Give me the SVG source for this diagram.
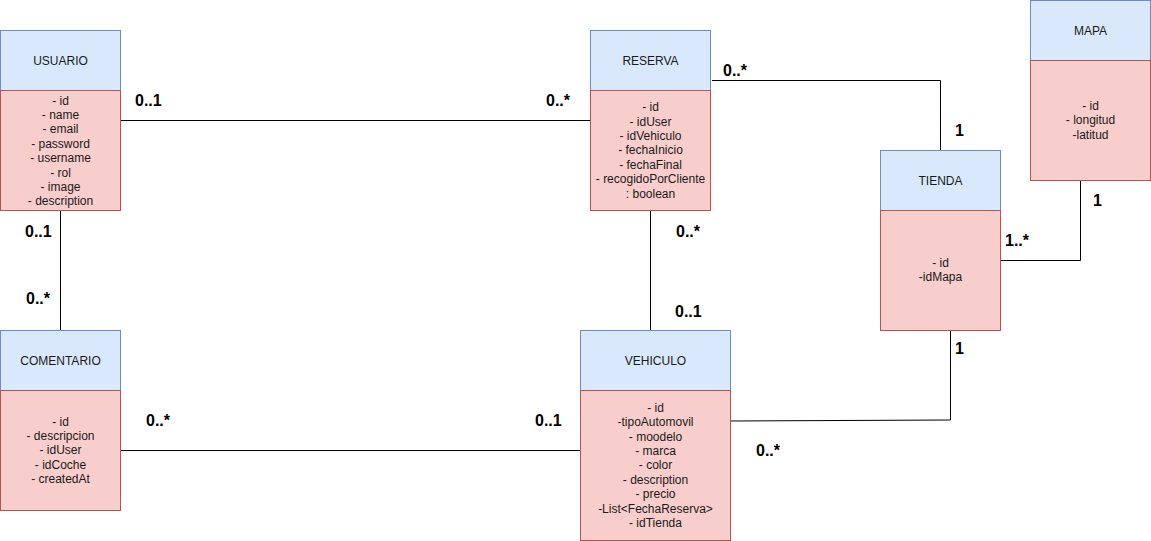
<svg xmlns="http://www.w3.org/2000/svg" width="1151" height="541" viewBox="0 0 1151 541">
  <style>
    .hdr { fill: #dae8fc; stroke: #6c8ebf; stroke-width: 1; }
    .body { fill: #f8cecc; stroke: #b85450; stroke-width: 1; }
    .t { font-family: "Liberation Sans", Arial, Helvetica, sans-serif; font-size: 12px; fill: #1a1a1a; text-anchor: middle; }
    .m { font-family: "Liberation Sans", Arial, Helvetica, sans-serif; font-size: 16px; font-weight: bold; fill: #000; }
    .edge { fill: none; stroke: #000; stroke-width: 1; }
  </style>
  <rect width="1151" height="541" fill="#ffffff"/>

  <!-- associations -->
  <g id="connectors">
    <path class="edge" d="M120.5 120.5 H590.5"/>
    <path class="edge" d="M60.5 210.5 V330.5"/>
    <path class="edge" d="M650.5 210.5 V330.5"/>
    <path class="edge" d="M712 80.5 H940.5 V150.5"/>
    <path class="edge" d="M1000.5 260.5 H1080.5 V180.5"/>
    <path class="edge" d="M730.5 421 L950.5 420 V330.5"/>
    <path class="edge" d="M120.5 450.5 H580.5"/>
  </g>

  <!-- multiplicities -->
  <g id="multiplicities">
    <text class="m" x="135" y="106">0..1</text>
    <text class="m" x="546" y="106">0..*</text>
    <text class="m" x="25" y="237">0..1</text>
    <text class="m" x="26" y="304">0..*</text>
    <text class="m" x="676" y="237">0..*</text>
    <text class="m" x="675" y="317">0..1</text>
    <text class="m" x="723" y="76">0..*</text>
    <text class="m" x="955" y="136">1</text>
    <text class="m" x="1005" y="246">1..*</text>
    <text class="m" x="1093" y="206">1</text>
    <text class="m" x="955" y="354">1</text>
    <text class="m" x="146" y="426">0..*</text>
    <text class="m" x="535" y="426">0..1</text>
    <text class="m" x="756" y="456">0..*</text>
  </g>

  <g id="usuario">
    <rect class="hdr" x="0.5" y="30.5" width="120" height="60"/>
    <rect class="body" x="0.5" y="90.5" width="120" height="120"/>
    <text class="t" x="60.5" y="64.5">USUARIO</text>
    <text class="t" x="60.5" y="104.5">- id</text>
    <text class="t" x="60.5" y="118.9">- name</text>
    <text class="t" x="60.5" y="133.3">- email</text>
    <text class="t" x="60.5" y="147.7">- password</text>
    <text class="t" x="60.5" y="162.1">- username</text>
    <text class="t" x="60.5" y="176.5">- rol</text>
    <text class="t" x="60.5" y="190.9">- image</text>
    <text class="t" x="60.5" y="205.3">- description</text>
  </g>

  <g id="reserva">
    <rect class="hdr" x="590.5" y="30.5" width="120" height="60"/>
    <rect class="body" x="590.5" y="90.5" width="120" height="120"/>
    <text class="t" x="650.5" y="64.5">RESERVA</text>
    <text class="t" x="650.5" y="111.2">- id</text>
    <text class="t" x="650.5" y="125.6">- idUser</text>
    <text class="t" x="650.5" y="140">- idVehiculo</text>
    <text class="t" x="650.5" y="154.4">- fechaInicio</text>
    <text class="t" x="650.5" y="168.8">- fechaFinal</text>
    <text class="t" x="650.5" y="183.2">- recogidoPorCliente</text>
    <text class="t" x="650.5" y="197.6">: boolean</text>
  </g>

  <g id="tienda">
    <rect class="hdr" x="880.5" y="150.5" width="120" height="60"/>
    <rect class="body" x="880.5" y="210.5" width="120" height="120"/>
    <text class="t" x="940.5" y="184.5">TIENDA</text>
    <text class="t" x="940.5" y="267">- id</text>
    <text class="t" x="940.5" y="281.4">-idMapa</text>
  </g>

  <g id="mapa">
    <rect class="hdr" x="1030.5" y="0.5" width="120" height="60"/>
    <rect class="body" x="1030.5" y="60.5" width="120" height="120"/>
    <text class="t" x="1090.5" y="34.5">MAPA</text>
    <text class="t" x="1090.5" y="110">- id</text>
    <text class="t" x="1090.5" y="124.4">- longitud</text>
    <text class="t" x="1090.5" y="138.8">-latitud</text>
  </g>

  <g id="comentario">
    <rect class="hdr" x="0.5" y="330.5" width="120" height="60"/>
    <rect class="body" x="0.5" y="390.5" width="120" height="120"/>
    <text class="t" x="60.5" y="364.5">COMENTARIO</text>
    <text class="t" x="60.5" y="425.6">- id</text>
    <text class="t" x="60.5" y="440">- descripcion</text>
    <text class="t" x="60.5" y="454.4">- idUser</text>
    <text class="t" x="60.5" y="468.8">- idCoche</text>
    <text class="t" x="60.5" y="483.2">- createdAt</text>
  </g>

  <g id="vehiculo">
    <rect class="hdr" x="580.5" y="330.5" width="150" height="60"/>
    <rect class="body" x="580.5" y="390.5" width="150" height="150"/>
    <text class="t" x="655.5" y="364.5">VEHICULO</text>
    <text class="t" x="655.5" y="411.7">- id</text>
    <text class="t" x="655.5" y="426.1">-tipoAutomovil</text>
    <text class="t" x="655.5" y="440.5">- moodelo</text>
    <text class="t" x="655.5" y="454.9">- marca</text>
    <text class="t" x="655.5" y="469.3">- color</text>
    <text class="t" x="655.5" y="483.7">- description</text>
    <text class="t" x="655.5" y="498.1">- precio</text>
    <text class="t" x="655.5" y="512.5">-List&lt;FechaReserva&gt;</text>
    <text class="t" x="655.5" y="526.9">- idTienda</text>
  </g>
</svg>
